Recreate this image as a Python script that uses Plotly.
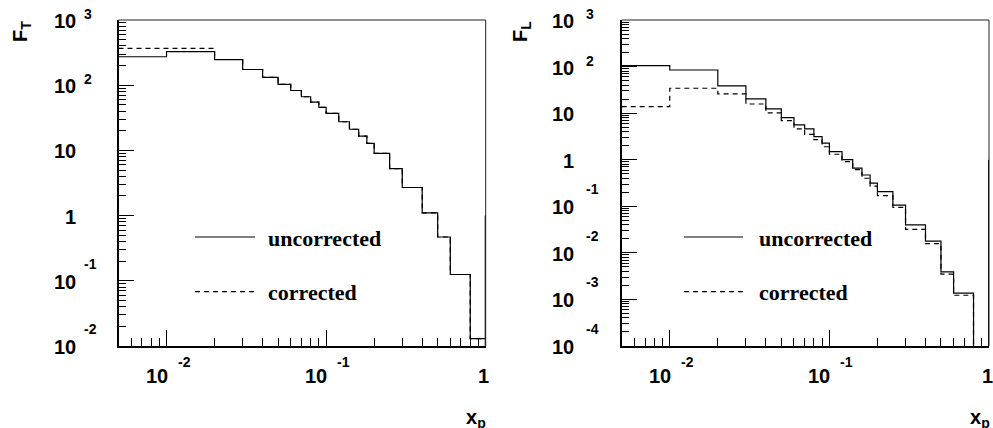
import math
import plotly.graph_objects as go

W, H = 993, 428

# ---------------- data ----------------
bin_edges = [0.005, 0.01, 0.02, 0.03, 0.04, 0.05, 0.06, 0.07, 0.08, 0.09, 0.10,
             0.12, 0.14, 0.16, 0.18, 0.20, 0.25, 0.30, 0.40, 0.50, 0.60, 0.80, 1.0]

FT_uncorrected = [273, 327, 246, 174, 132, 103, 83, 66.5, 55, 45.8, 37,
                  27.5, 21.1, 16.6, 12.8, 9.0, 5.26, 2.7, 1.1, 0.47, 0.125, 0.013]
FT_corrected = [368, 368, 248, 174, 132, 103, 83, 66.5, 55, 45.8, 37,
                27.5, 21.1, 16.6, 12.8, 9.0, 5.26, 2.7, 1.1, 0.47, 0.125, 0.013]

FL_uncorrected = [105, 84.5, 38.4, 20.2, 12.4, 8.0, 5.6, 4.6, 3.14, 2.27, 1.49,
                  1.0, 0.66, 0.47, 0.315, 0.207, 0.106, 0.040, 0.0178, 0.0039, 0.00136, 1e-6]
FL_corrected = [13.8, 34.2, 25.8, 15.7, 10.1, 6.9, 4.6, 3.5, 2.7, 1.9, 1.31,
                0.91, 0.61, 0.40, 0.27, 0.17, 0.095, 0.032, 0.0158, 0.0035, 0.00123, 1e-6]

overflow_level = 1.0   # vertical bar drawn at x = 1 down to the axis

x_range = [0.005, 1.0]
x_major_ticks = [0.01, 0.1, 1.0]
x_tick_base = ["10", "10", "1"]
x_tick_exp = ["-2", "-1", ""]

yT_range = [1e-2, 1e3]
yT_major_ticks = [1e-2, 1e-1, 1, 10, 1e2, 1e3]
yT_tick_base = ["10", "10", "1", "10", "10", "10"]
yT_tick_exp = ["-2", "-1", "", "", "2", "3"]

yL_range = [1e-4, 1e3]
yL_major_ticks = [1e-4, 1e-3, 1e-2, 1e-1, 1, 10, 1e2, 1e3]
yL_tick_base = ["10", "10", "10", "10", "1", "10", "10", "10"]
yL_tick_exp = ["-4", "-3", "-2", "-1", "", "", "2", "3"]

legend_labels = ["uncorrected", "corrected"]
y_titles = ["F<sub>T</sub>", "F<sub>L</sub>"]
x_title = "x<sub>p</sub>"


def minor_vals(lo, hi):
    out = []
    d = math.floor(math.log10(lo))
    while 10 ** d < hi * 1.0001:
        for k in range(2, 10):
            v = k * 10 ** d
            if lo * 0.9999 < v < hi * 1.0001:
                out.append(v)
        d += 1
    return out


# ---------------- layout geometry (pixels) ----------------
panels = [
    dict(left=118.5, right=485.7, yrange=yT_range, yticks=yT_major_ticks,
         ybase=yT_tick_base, yexp=yT_tick_exp, unc=FT_uncorrected, cor=FT_corrected,
         ylab_right=78, yexp_left=82, ytitle=y_titles[0], ytitle_x=21,
         leg_x0=195, leg_x1=255, leg_text=266, xtitle_x=488),
    dict(left=621.7, right=989.0, yrange=yL_range, yticks=yL_major_ticks,
         ybase=yL_tick_base, yexp=yL_tick_exp, unc=FL_uncorrected, cor=FL_corrected,
         ylab_right=576, yexp_left=584, ytitle=y_titles[1], ytitle_x=521,
         leg_x0=684, leg_x1=743, leg_text=757, xtitle_x=992),
]
top_px, bottom_px = 20.0, 346.0
leg_y = [237.0, 291.7]


def px(x):
    return x / W


def py(y):
    return 1 - y / H


fig = go.Figure()
annotations = []
shapes = []
BOLD = "Liberation Sans, Arial, sans-serif"
SERIF = "Liberation Serif, Times New Roman, serif"
lab_font = dict(family=BOLD, size=20, color="black", weight="bold")
exp_font = dict(family=BOLD, size=14, color="black", weight="bold")

for i, p in enumerate(panels):
    n = "" if i == 0 else str(i + 1)
    xa, ya = "x" + n, "y" + n
    # histograms
    for vals, dash in [(p["unc"], "solid"), (p["cor"], "5px,4px")]:
        fig.add_trace(go.Scatter(
            x=bin_edges, y=vals + [vals[-1]], mode="lines", line_shape="hv",
            line=dict(color="black", width=1.2, dash=dash),
            xaxis=xa, yaxis=ya, showlegend=False, hoverinfo="skip"))
    fig.add_trace(go.Scatter(
        x=[bin_edges[-1], bin_edges[-1]], y=[overflow_level, p["yrange"][0] / 10],
        mode="lines", line=dict(color="black", width=2),
        xaxis=xa, yaxis=ya, showlegend=False, hoverinfo="skip"))

    axis_common = dict(type="log", showline=True, linecolor="black", linewidth=1.5,
                       ticks="inside", ticklen=16, tickwidth=1, tickcolor="black",
                       showticklabels=False, showgrid=False, zeroline=False)
    fig.update_layout(**{
        "xaxis" + n: dict(axis_common, domain=[px(p["left"]), px(p["right"])],
                          range=[math.log10(x_range[0]), math.log10(x_range[1])],
                          anchor=ya, tickvals=x_major_ticks,
                          minor=dict(tickvals=minor_vals(*x_range), ticks="inside",
                                     ticklen=8, tickwidth=1, tickcolor="black",
                                     showgrid=False)),
        "yaxis" + n: dict(axis_common, domain=[py(bottom_px), py(top_px)],
                          range=[math.log10(p["yrange"][0]), math.log10(p["yrange"][1])],
                          anchor=xa, tickvals=p["yticks"],
                          minor=dict(tickvals=minor_vals(*p["yrange"]), ticks="inside",
                                     ticklen=8, tickwidth=1, tickcolor="black",
                                     showgrid=False)),
    })
    # top / right frame
    shapes.append(dict(type="line", xref=xa + " domain", yref=ya + " domain",
                       x0=0, x1=1, y0=1, y1=1, line=dict(color="#222", width=1)))
    shapes.append(dict(type="line", xref=xa + " domain", yref=ya + " domain",
                       x0=1, x1=1, y0=0, y1=1, line=dict(color="#222", width=1)))

    # y tick labels
    for v, b, e in zip(p["yticks"], p["ybase"], p["yexp"]):
        annotations.append(dict(x=px(p["ylab_right"]), xref="paper", y=math.log10(v), yref=ya,
                                text=b, showarrow=False, xanchor="right", yanchor="middle",
                                font=lab_font, yshift=-1))
        if e:
            shift = 6 if not e.startswith("-") else 17
            annotations.append(dict(x=px(p["yexp_left"]), xref="paper", y=math.log10(v), yref=ya,
                                    text=e, showarrow=False, xanchor="left", yanchor="middle",
                                    font=exp_font, yshift=shift))
    # x tick labels
    for v, b, e in zip(x_major_ticks, x_tick_base, x_tick_exp):
        if e:
            annotations.append(dict(x=math.log10(v), xref=xa, y=py(376), yref="paper",
                                    text=b, showarrow=False, xanchor="right", yanchor="middle",
                                    font=lab_font, xshift=3))
            annotations.append(dict(x=math.log10(v), xref=xa, y=py(362), yref="paper",
                                    text=e, showarrow=False, xanchor="left", yanchor="middle",
                                    font=exp_font, xshift=9))
        else:
            annotations.append(dict(x=math.log10(v), xref=xa, y=py(376), yref="paper",
                                    text=b, showarrow=False, xanchor="center", yanchor="middle",
                                    font=lab_font, xshift=-2))
    # axis titles
    annotations.append(dict(x=px(p["ytitle_x"]), y=py(32), xref="paper", yref="paper",
                            text=p["ytitle"], textangle=-90, showarrow=False,
                            xanchor="center", yanchor="middle", font=lab_font))
    annotations.append(dict(x=px(p["xtitle_x"]), y=py(418), xref="paper", yref="paper",
                            text=x_title, showarrow=False,
                            xanchor="right", yanchor="middle", font=lab_font))
    # legend
    for ly, lab, dash in zip(leg_y, legend_labels, ["solid", "5px,4px"]):
        shapes.append(dict(type="line", xref="paper", yref="paper",
                           x0=px(p["leg_x0"]), x1=px(p["leg_x1"]), y0=py(ly), y1=py(ly),
                           line=dict(color="black", width=1.2, dash=dash)))
        annotations.append(dict(x=px(p["leg_text"]), y=py(ly + 1), xref="paper", yref="paper",
                                text=lab, showarrow=False, xanchor="left", yanchor="middle",
                                font=dict(family=SERIF, size=22, color="black", weight="bold")))

fig.update_layout(width=W, height=H, margin=dict(l=0, r=0, t=0, b=0),
                  paper_bgcolor="white", plot_bgcolor="white",
                  annotations=annotations, shapes=shapes, showlegend=False)

fig.write_html("out.html", config={"displayModeBar": False},
               post_script="document.body.style.margin='0';document.body.style.overflow='hidden';")
